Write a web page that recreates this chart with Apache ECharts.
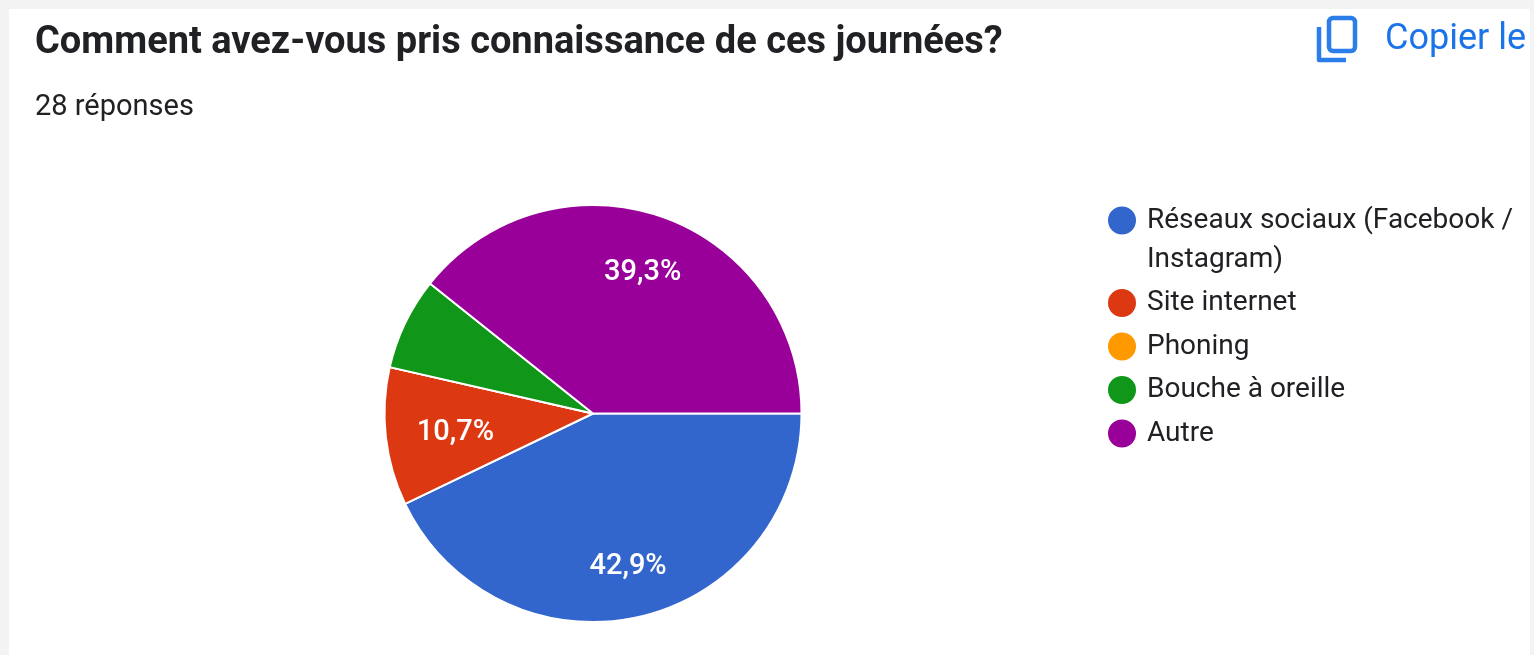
<!DOCTYPE html>
<html><head><meta charset="utf-8">
<style>html,body{margin:0;padding:0;background:#f3f3f3}#c{width:1534px;height:655px}</style>
<script src="https://cdn.jsdelivr.net/npm/echarts@6/dist/echarts.min.js"></script>
</head><body><div id="c"></div>
<script>
const categories = ['Réseaux sociaux (Facebook /\nInstagram)', 'Site internet', 'Phoning', 'Bouche à oreille', 'Autre'];
const counts = [12, 3, 0, 2, 11];
const colors = ['#3366cc', '#dc3912', '#ff9900', '#109618', '#990099'];
const labelTexts = ['42,9%', '10,7%', '', '', '39,3%'];
const labelRadial = [0.735, 0.645, 0.5, 0.5, 0.70];
const labelShiftY = [0, 4, 0, 0, 1];
const titleText = 'Comment avez-vous pris connaissance de ces journées?';
const subtitleText = '28 réponses';
const copyText = 'Copier le';
const FONT = 'Roboto, sans-serif';
const cx = 593, cy = 413.5;

const chart = echarts.init(document.getElementById('c'), null, {renderer: 'canvas'});
chart.setOption({
  backgroundColor: '#f3f3f3',
  animation: false,
  color: colors,
  graphic: [
    {type: 'rect', z: -10, shape: {x: 9, y: 9, width: 1521, height: 650}, style: {fill: '#ffffff'}},
    {type: 'text', x: 35, y: 24, style: {text: titleText, font: '700 38px ' + FONT, fill: '#202124'}},
    {type: 'text', x: 35, y: 93, style: {text: subtitleText, font: '400 29px ' + FONT, fill: '#202124'}},
    {type: 'text', x: 1385, y: 22, style: {text: copyText, font: '400 36px ' + FONT, fill: '#1a73e8'}},
    {type: 'rect', shape: {x: 1329, y: 18, width: 26, height: 33, r: 4}, style: {fill: 'none', stroke: '#2b7de9', lineWidth: 4.5}},
    {type: 'polyline', shape: {points: [[1319, 27], [1319, 60], [1346, 60]]}, style: {fill: 'none', stroke: '#2b7de9', lineWidth: 4.5, lineJoin: 'round'}}
  ],
  legend: {
    orient: 'vertical',
    left: 1106,
    top: 162,
    padding: 0,
    icon: 'circle',
    itemWidth: 30,
    itemHeight: 30,
    itemGap: 4.5,
    selectedMode: false,
    data: categories,
    formatter: name => name.includes('\n') ? '\n' + name : name,
    textStyle: {fontFamily: FONT, fontSize: 28, color: '#202124', lineHeight: 39, padding: [0, 0, 0, 5]}
  },
  series: [{
    type: 'pie',
    center: [cx, cy],
    radius: [0, 208.5],
    startAngle: 0,
    clockwise: true,
    data: categories.map((name, i) => ({name, value: counts[i], label: {show: labelTexts[i] !== ''}})),
    itemStyle: {borderColor: '#ffffff', borderWidth: 2},
    label: {
      position: 'inside',
      color: '#ffffff',
      fontFamily: FONT,
      fontSize: 29,
      fontWeight: 500,
      formatter: p => labelTexts[p.dataIndex]
    },
    labelLine: {show: false},
    labelLayout: p => {
      const lx = p.labelRect.x + p.labelRect.width / 2;
      const ly = p.labelRect.y + p.labelRect.height / 2;
      const k = labelRadial[p.dataIndex] / 0.5 - 1;
      return {dx: (lx - cx) * k, dy: (ly - cy) * k + labelShiftY[p.dataIndex]};
    }
  }]
});
</script></body></html>
